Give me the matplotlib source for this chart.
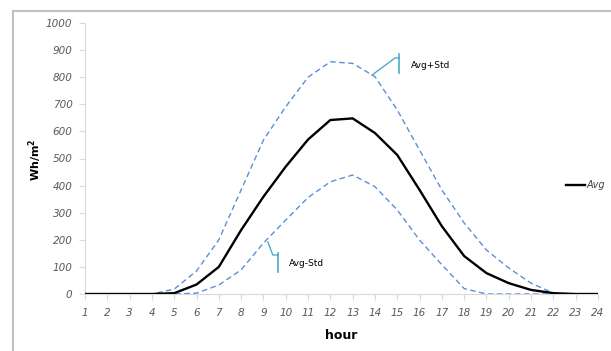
import matplotlib
matplotlib.use("Agg")
import matplotlib.pyplot as plt
from matplotlib.lines import Line2D

# hourly radiation, Wh/m2
hours = list(range(1, 25))
avg = [0, 0, 0, 0, 3, 35, 100, 236, 359, 470, 570, 642, 648, 594, 513, 384, 250, 140, 77, 40, 15, 3, 0, 0]
avg_plus = [0, 0, 0, 0, 18, 85, 200, 384, 568, 691, 800, 857, 851, 802, 679, 531, 384, 262, 162, 96, 40, 3, 0, 0]
avg_minus = [0, 0, 0, 0, 0, 3, 33, 89, 188, 273, 356, 414, 439, 396, 310, 199, 108, 20, 0, 0, 0, 0, 0, 0]
yticks = list(range(0, 1001, 100))

fig = plt.figure(figsize=(6.11, 3.51), dpi=100)
ax = fig.add_axes([85 / 611, 1 - 294 / 351, (598 - 85) / 611, (294 - 23) / 351])

blue = "#5b8fd6"
ax.plot(hours, avg_plus, color=blue, lw=1.0, dashes=(4, 2.5), zorder=3)
ax.plot(hours, avg_minus, color=blue, lw=1.0, dashes=(4, 2.5), zorder=3)
ax.plot(hours, avg, color="black", lw=1.7, zorder=4, label="Avg")

ax.set_xlim(1, 24)
ax.set_ylim(0, 1000)
ax.set_xticks(hours)
ax.set_yticks(yticks)
ax.set_yticklabels([str(v) for v in yticks])

for s in ["top", "right"]:
    ax.spines[s].set_visible(False)
ax.spines["left"].set_color("#d9d9d9")
ax.spines["bottom"].set_color("#d9d9d9")
ax.tick_params(axis="both", colors="#d9d9d9", labelcolor="#595959", labelsize=7.5, length=4)
ax.tick_params(axis="x", pad=6)
ax.tick_params(axis="y", pad=5)
for lab in ax.get_xticklabels() + ax.get_yticklabels():
    lab.set_fontstyle("italic")

ax.set_xlabel("hour", fontsize=9, fontweight="bold", labelpad=8)
fig.text(35 / 611, 1 - 160 / 351, "Wh/m$^\\mathbf{2}$", rotation=90, fontsize=8,
         fontweight="bold", ha="center", va="center")

# data labels with leader lines
teal = "#4bacc6"
ax.plot([13.87, 14.9, 15.09], [808, 871, 871], color=teal, lw=1.0, clip_on=False)
ax.plot([15.09, 15.09], [886, 815], color=teal, lw=1.2, clip_on=False)
ax.text(15.6, 845, "Avg+Std", fontsize=6.5, ha="left", va="center")
ax.plot([9.2, 9.42, 9.65], [192, 144, 144], color=teal, lw=1.0, clip_on=False)
ax.plot([9.65, 9.65], [151, 81], color=teal, lw=1.2, clip_on=False)
ax.text(10.15, 111, "Avg-Std", fontsize=6.5, ha="left", va="center")

leg = ax.legend(loc="center left", bbox_to_anchor=(566 / 611, 1 - 185 / 351),
                bbox_transform=fig.transFigure, frameon=False, fontsize=7,
                handlelength=2.0, handletextpad=0.1, borderpad=0, borderaxespad=0)
for t in leg.get_texts():
    t.set_fontstyle("italic")
    t.set_color("#404040")

# chart area border (top and left visible)
fig.add_artist(Line2D([13 / 611, 1], [1 - 11 / 351, 1 - 11 / 351], color="#c0c0c0", lw=1.5))
fig.add_artist(Line2D([13 / 611, 13 / 611], [0, 1 - 11 / 351], color="#c0c0c0", lw=1.5))

fig.savefig("out.png", dpi=100)
